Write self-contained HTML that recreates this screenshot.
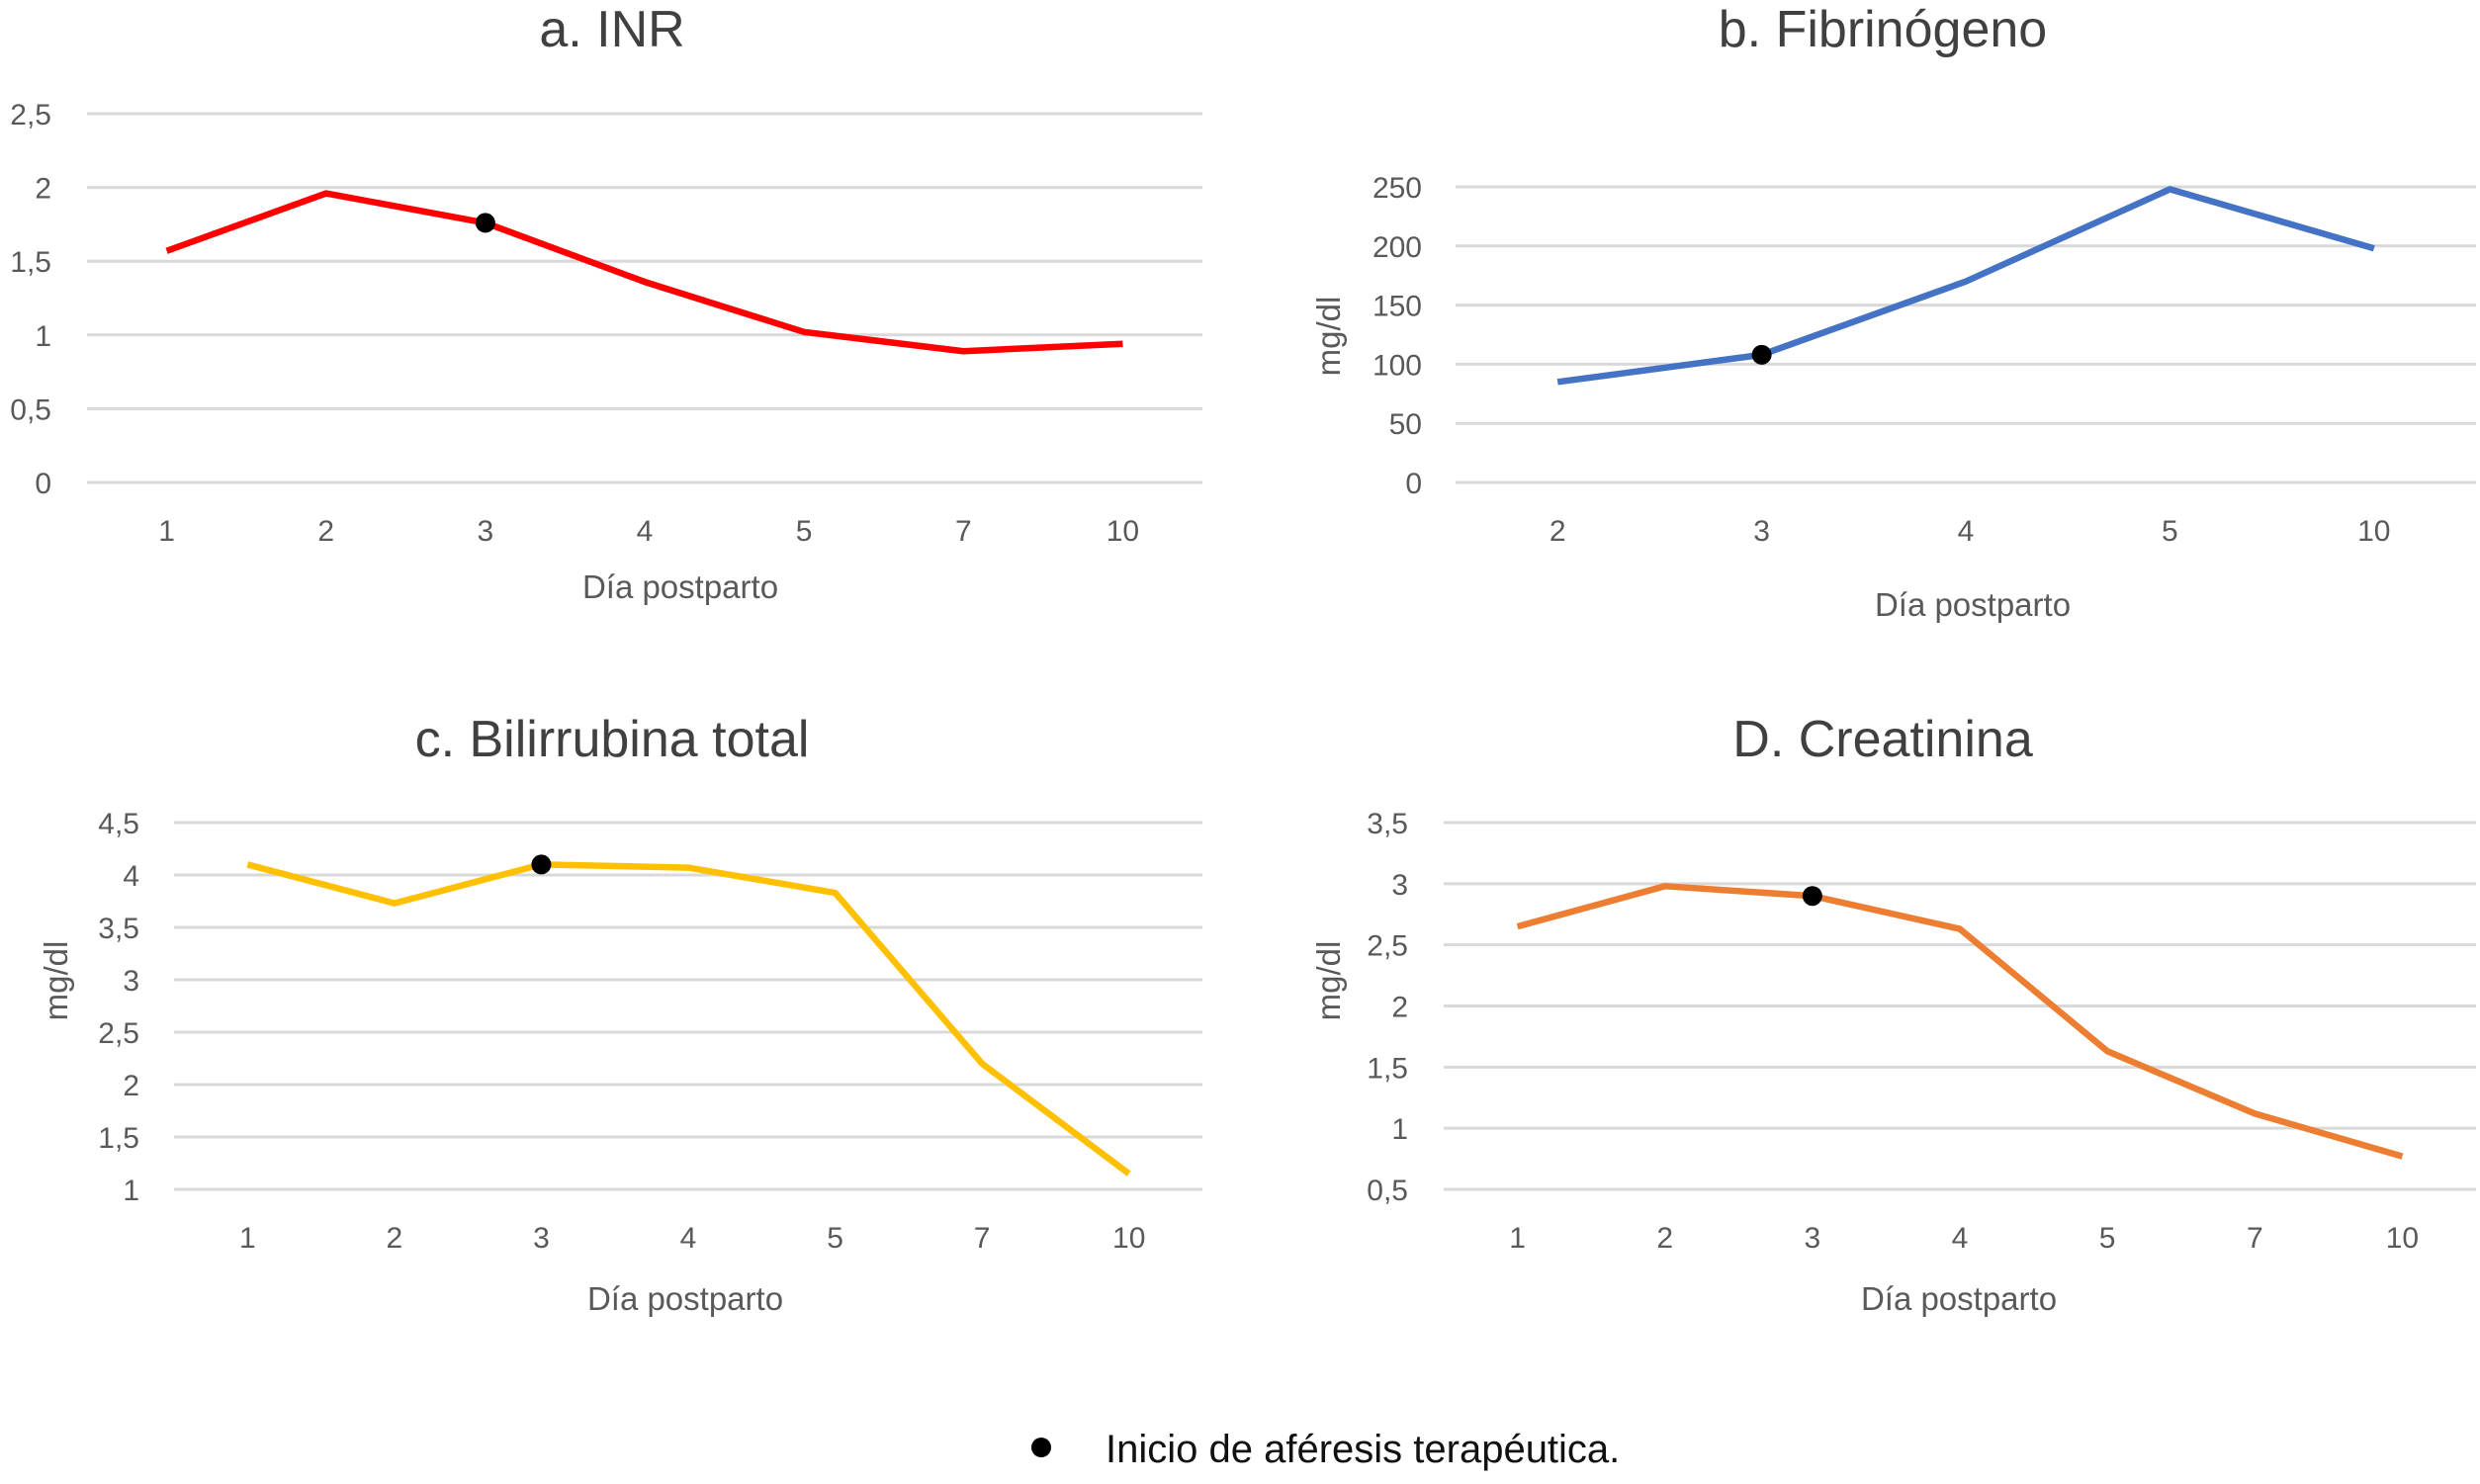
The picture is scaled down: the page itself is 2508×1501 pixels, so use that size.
<!DOCTYPE html>
<html><head><meta charset="utf-8"><style>
html,body{margin:0;padding:0;background:#fff;}
svg{display:block;font-family:"Liberation Sans",sans-serif;}
</style></head><body>
<svg id="fig" width="2508" height="1501" viewBox="0 0 2508 1501">
<g>
<circle cx="1053" cy="1464" r="10" fill="#000"/>
<text x="1118" y="1479" font-size="40" fill="#111">Inicio de aféresis terapéutica.</text>
</g>
</svg>
<script>
const catsA=["1","2","3","4","5","7","10"];
const valsA=[1.57,1.96,1.76,1.36,1.02,0.89,0.94];
const ticksA=[0,0.5,1,1.5,2,2.5];
const catsB=["2","3","4","5","10"];
const valsB=[85,108,170,248,198];
const ticksB=[0,50,100,150,200,250];
const catsC=["1","2","3","4","5","7","10"];
const valsC=[4.1,3.73,4.1,4.07,3.83,2.2,1.15];
const ticksC=[1,1.5,2,2.5,3,3.5,4,4.5];
const catsD=["1","2","3","4","5","7","10"];
const valsD=[2.65,2.98,2.9,2.63,1.63,1.12,0.77];
const ticksD=[0.5,1,1.5,2,2.5,3,3.5];
const markerDay="3";

const NS="http://www.w3.org/2000/svg";
const svg=document.getElementById('fig');
function mk(tag,attrs,parent){const e=document.createElementNS(NS,tag);for(const k in attrs)e.setAttribute(k,attrs[k]);parent.appendChild(e);return e;}
function fmt(v){return String(v).replace('.',',');}

function chart(cfg){
  const g=mk('g',{},svg);
  
  
  const ymin=cfg.ticks[0],ymax=cfg.ticks[cfg.ticks.length-1];
  const ys=v=>cfg.y1-(v-ymin)/(ymax-ymin)*(cfg.y1-cfg.y0);
  const step=(cfg.xr-cfg.xl)/cfg.cats.length;
  const xs=i=>cfg.xl+step*(i+0.5);
  cfg.ticks.forEach(t=>{
    const l=mk('line',{x1:cfg.xl,x2:cfg.xr,y1:ys(t),y2:ys(t),stroke:'#d9d9d9','stroke-width':3},g);
    
    
    const tx=mk('text',{x:cfg.ylx,y:ys(t)+11,'font-size':30,fill:'#595959','text-anchor':'end'},g);
    tx.textContent=fmt(t);
    
    
  });
  cfg.cats.forEach((c,i)=>{
    const tx=mk('text',{x:xs(i),y:cfg.y1+59,'font-size':30,fill:'#595959','text-anchor':'middle'},g);
    tx.textContent=c;
    
    
  });
  const pts=cfg.vals.map((v,i)=>xs(i)+','+ys(v)).join(' ');
  const pl=mk('polyline',{points:pts,fill:'none',stroke:cfg.color,'stroke-width':6.5,'stroke-linejoin':'round'},g);
  
  
  const mi=cfg.cats.indexOf(markerDay);
  if(mi>=0){
    const d=mk('circle',{cx:xs(mi),cy:ys(cfg.vals[mi]),r:10,fill:'#000'},g);
    
    
  }
  const t=mk('text',{x:cfg.tx,y:cfg.ty,'font-size':52,fill:'#404040','text-anchor':'middle'},g);
  t.textContent=cfg.title;
  
  
  const xl=mk('text',{x:cfg.xlx,y:cfg.xly,'font-size':33,fill:'#595959','text-anchor':'middle'},g);
  xl.textContent='Día postparto';
  
  
  if(cfg.ylab){
    const yl=mk('text',{x:0,y:0,'font-size':33,fill:'#595959','text-anchor':'middle',transform:`translate(${cfg.ylab[0]},${cfg.ylab[1]}) rotate(-90)`},g);
    yl.textContent='mg/dl';
    
    
  }
}
chart({name:'chart-inr',cats:catsA,vals:valsA,ticks:ticksA,color:'#ff0000',xl:88,xr:1216,y0:115,y1:488,ylx:52,title:'a. INR',tx:619,ty:47,xlx:688,xly:605});
chart({name:'chart-fibrinogeno',cats:catsB,vals:valsB,ticks:ticksB,color:'#4472c4',xl:1472,xr:2504,y0:189,y1:488,ylx:1438,title:'b. Fibrinógeno',tx:1904,ty:47,xlx:1995,xly:623,ylab:[1355,340]});
chart({name:'chart-bilirrubina',cats:catsC,vals:valsC,ticks:ticksC,color:'#ffc000',xl:176,xr:1216,y0:832,y1:1203,ylx:141,title:'c. Bilirrubina total',tx:619,ty:765,xlx:693,xly:1325,ylab:[68,992]});
chart({name:'chart-creatinina',cats:catsD,vals:valsD,ticks:ticksD,color:'#ed7d31',xl:1460,xr:2504,y0:832,y1:1203,ylx:1424,title:'D. Creatinina',tx:1904,ty:765,xlx:1981,xly:1325,ylab:[1355,992]});
</script>
</body></html>
